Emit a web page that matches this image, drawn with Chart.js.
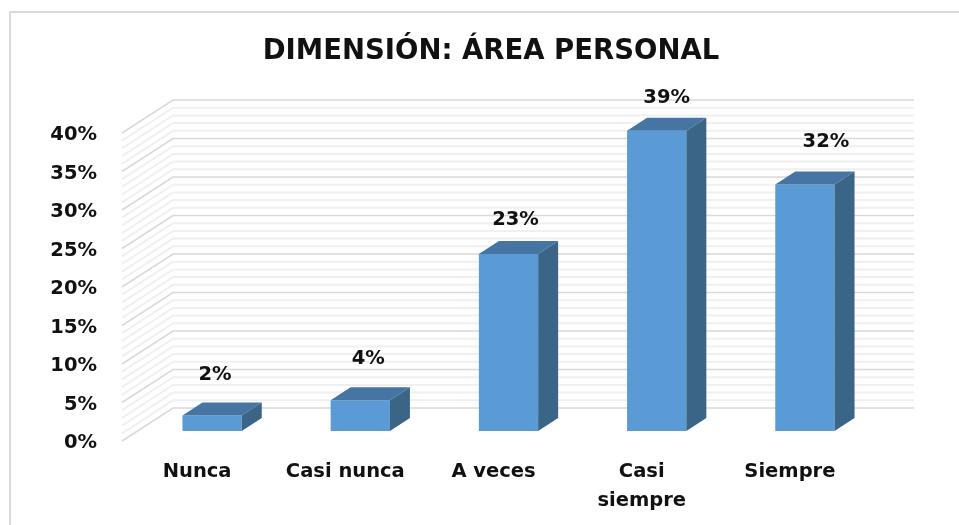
<!DOCTYPE html>
<html>
<head>
<meta charset="utf-8">
<title>Dimensión: Área personal</title>
<script src="https://cdn.jsdelivr.net/npm/chart.js@4/dist/chart.umd.min.js"></script>
<style>
  html, body { margin: 0; padding: 0; background: #ffffff; }
  #box { width: 959px; height: 525px; }
</style>
</head>
<body>
<div id="box"><canvas id="chart" width="959" height="525"></canvas></div>
<script>
const categories = ["Nunca", "Casi nunca", "A veces", ["Casi", "siempre"], "Siempre"];
const values = [2, 4, 23, 39, 32];
const valueLabels = ["2%", "4%", "23%", "39%", "32%"];
const yTickLabels = ["0%", "5%", "10%", "15%", "20%", "25%", "30%", "35%", "40%"];

const labelFont = "bold 19.5px 'DejaVu Sans'";

// fake 3D: floor depth and bar depth, drawn around the real scales
const wall = { frontX: -16, frontY: 10, backX: 35, backY: -23 };
const barDepth = { x: 20, y: -13 };
const labelNudge = [{ x: 3, y: -41 }, { x: 8, y: -41 }, { x: 7, y: -34 }, { x: 10, y: -33 }, { x: 21, y: -43 }];

const frame3d = {
  id: "frame3d",
  beforeDraw(chart) {
    const ctx = chart.ctx;
    ctx.save();
    ctx.strokeStyle = "#d9d9d9";
    ctx.lineWidth = 2;
    ctx.beginPath();
    ctx.moveTo(10, 525);
    ctx.lineTo(10, 12);
    ctx.lineTo(959, 12);
    ctx.stroke();
    ctx.restore();
  },
  beforeDatasetsDraw(chart) {
    const ctx = chart.ctx;
    const y = chart.scales.y;
    const area = chart.chartArea;
    ctx.save();
    // minor lines first so the 5% ones sit on top
    for (const major of [false, true]) {
      ctx.strokeStyle = major ? "#d9d9d9" : "#f0f0f0";
      ctx.lineWidth = major ? 1.5 : 2;
      for (let v = 0; v <= 40; v++) {
        if ((v % 5 === 0) !== major) continue;
        const py = y.getPixelForValue(v);
        ctx.beginPath();
        ctx.moveTo(area.left + wall.frontX, py + wall.frontY);
        ctx.lineTo(area.left + wall.backX, py + wall.backY);
        ctx.lineTo(area.right + wall.backX, py + wall.backY);
        ctx.stroke();
      }
    }
    ctx.restore();
  },
  afterDatasetsDraw(chart) {
    const ctx = chart.ctx;
    const bars = chart.getDatasetMeta(0).data;
    ctx.save();
    bars.forEach((bar, i) => {
      const left = bar.x - bar.width / 2;
      const right = bar.x + bar.width / 2;
      // top face
      ctx.fillStyle = "#4675a3";
      ctx.beginPath();
      ctx.moveTo(left, bar.y);
      ctx.lineTo(right, bar.y);
      ctx.lineTo(right + barDepth.x, bar.y + barDepth.y);
      ctx.lineTo(left + barDepth.x, bar.y + barDepth.y);
      ctx.closePath();
      ctx.fill();
      // side face
      ctx.fillStyle = "#3a6587";
      ctx.beginPath();
      ctx.moveTo(right, bar.y);
      ctx.lineTo(right + barDepth.x, bar.y + barDepth.y);
      ctx.lineTo(right + barDepth.x, bar.base + barDepth.y);
      ctx.lineTo(right, bar.base);
      ctx.closePath();
      ctx.fill();
      // value label
      ctx.fillStyle = "#111111";
      ctx.font = labelFont;
      ctx.textAlign = "center";
      ctx.textBaseline = "middle";
      ctx.fillText(valueLabels[i], bar.x + labelNudge[i].x, bar.y + labelNudge[i].y);
    });
    ctx.restore();
  }
};

new Chart(document.getElementById("chart"), {
  type: "bar",
  data: {
    labels: categories,
    datasets: [{
      data: values,
      backgroundColor: "#5b9bd5",
      barPercentage: 0.4,
      categoryPercentage: 1
    }]
  },
  plugins: [frame3d],
  options: {
    responsive: false,
    animation: false,
    layout: { padding: { left: 40, right: 17, top: 0, bottom: 0 } },
    plugins: {
      legend: { display: false },
      tooltip: { enabled: false },
      title: {
        display: true,
        text: "DIMENSIÓN: ÁREA PERSONAL",
        color: "#111111",
        font: { family: "'DejaVu Sans'", size: 27.5, weight: "bold", lineHeight: 1.2 },
        padding: { top: 35, bottom: 55 }
      }
    },
    scales: {
      x: {
        grid: { display: false },
        border: { display: false },
        afterFit(scale) { scale.height = 94; },
        ticks: {
          color: "#111111",
          font: { family: "'DejaVu Sans'", size: 19.5, weight: "bold", lineHeight: 1.5 },
          padding: 18,
          labelOffset: -15,
          maxRotation: 0
        }
      },
      y: {
        min: 0,
        max: 40,
        grid: { display: false },
        border: { display: false },
        afterFit(scale) { scale.width = 98; },
        ticks: {
          stepSize: 5,
          color: "#111111",
          font: { family: "'DejaVu Sans'", size: 19.5, weight: "bold" },
          padding: 33,
          labelOffset: 12,
          callback: (value, index) => yTickLabels[index]
        }
      },
      // empty axis, only keeps the plot narrower than the title box
      spacer: {
        position: "right",
        grid: { display: false },
        border: { display: false },
        ticks: { display: false },
        afterFit(scale) { scale.width = 63; }
      }
    }
  }
});
</script>
</body>
</html>
